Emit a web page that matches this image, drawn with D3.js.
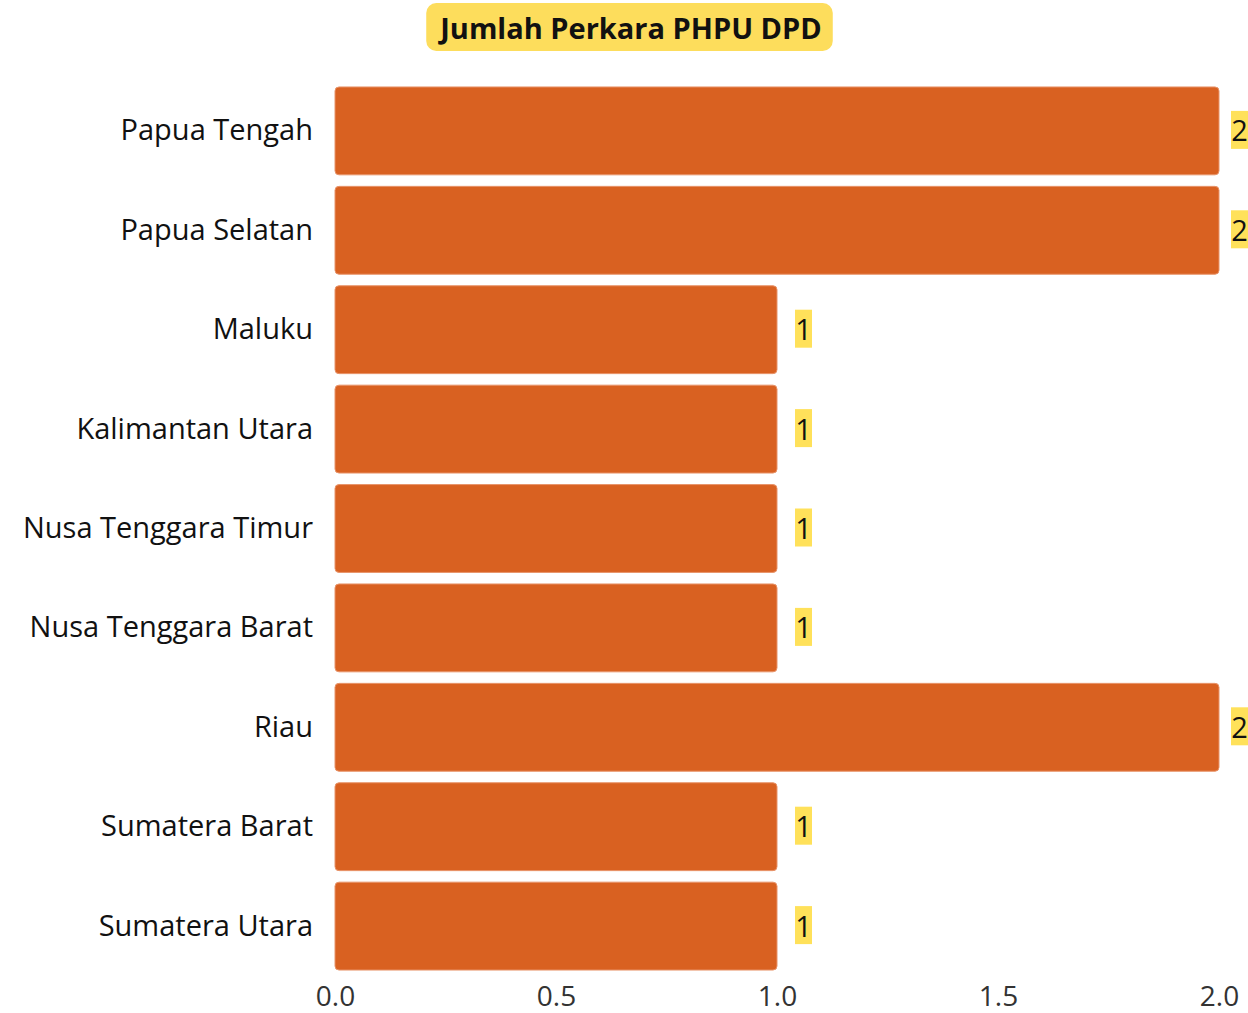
<!DOCTYPE html>
<html>
<head>
<meta charset="utf-8">
<script src="https://cdn.jsdelivr.net/npm/d3@7"></script>
<style>
  body { margin: 0; background: #fff; }
  text { font-family: "Open Sans", sans-serif; }
</style>
</head>
<body>
<svg id="chart"></svg>
<script>
// provinces, top to bottom
const provinces = ['Papua Tengah', 'Papua Selatan', 'Maluku', 'Kalimantan Utara',
  'Nusa Tenggara Timur', 'Nusa Tenggara Barat', 'Riau', 'Sumatera Barat', 'Sumatera Utara'];
const cases = [2, 2, 1, 1, 1, 1, 2, 1, 1];
const xTicks = [0, 0.5, 1, 1.5, 2];
const title = 'Jumlah Perkara PHPU DPD';

const width = 1248, height = 1013;
const svg = d3.select('#chart').attr('width', width).attr('height', height);

const x = d3.scaleLinear().domain([0, 2]).range([335, 1219]);
const y = d3.scaleBand()
  .domain(provinces)
  .range([81.2, 975.8])
  .paddingInner(0.116)
  .paddingOuter(0.058);

const data = provinces.map((p, i) => ({ province: p, value: cases[i] }));

// title box
const tg = svg.append('g');
const tt = tg.append('text')
  .attr('x', 631).attr('y', 27)
  .attr('text-anchor', 'middle')
  .attr('dominant-baseline', 'central')
  .style('font-size', '29px')
  .style('font-weight', 700)
  .style('fill', '#111')
  .text(title);
const tb = tt.node().getBBox();
tg.insert('rect', 'text')
  .attr('x', tb.x - 11).attr('y', 3)
  .attr('width', tb.width + 22).attr('height', 48)
  .attr('rx', 10)
  .attr('fill', '#FDDD5C');

// bars
svg.selectAll('.bar')
  .data(data)
  .enter()
  .append('rect')
  .attr('class', 'bar')
  .attr('x', x(0))
  .attr('y', d => y(d.province))
  .attr('width', d => x(d.value) - x(0))
  .attr('height', y.bandwidth())
  .attr('rx', 4)
  .attr('fill', '#D96121')
  .attr('stroke', '#E8946A')
  .attr('stroke-width', 1);

// category labels
svg.selectAll('.cat')
  .data(data)
  .enter()
  .append('text')
  .attr('class', 'cat')
  .attr('x', 313)
  .attr('y', d => y(d.province) + y.bandwidth() / 2 - 2)
  .attr('text-anchor', 'end')
  .attr('dominant-baseline', 'central')
  .style('font-size', '29px')
  .style('fill', '#111')
  .text(d => d.province);

// value labels with yellow highlight
const vl = svg.selectAll('.val')
  .data(data)
  .enter()
  .append('g')
  .attr('class', 'val');
vl.append('rect')
  .attr('x', d => x(d.value) + (d.value === 2 ? 12 : 18))
  .attr('y', d => y(d.province) + y.bandwidth() / 2 - 20)
  .attr('width', 17)
  .attr('height', 38)
  .attr('fill', '#FFE15A');
vl.append('text')
  .attr('x', d => x(d.value) + (d.value === 2 ? 20.5 : 26.5))
  .attr('y', d => y(d.province) + y.bandwidth() / 2 - 1)
  .attr('text-anchor', 'middle')
  .attr('dominant-baseline', 'central')
  .style('font-size', '29px')
  .style('fill', '#111')
  .text(d => d.value);

// x axis, labels only
const xAxis = svg.append('g')
  .attr('transform', 'translate(0,982)')
  .call(d3.axisBottom(x).tickValues(xTicks).tickFormat(d3.format('.1f')).tickSize(0).tickPadding(4));
xAxis.select('.domain').remove();
xAxis.selectAll('text')
  .style('font-family', '"Open Sans", sans-serif')
  .style('font-size', '28px')
  .style('fill', '#333');
</script>
</body>
</html>
